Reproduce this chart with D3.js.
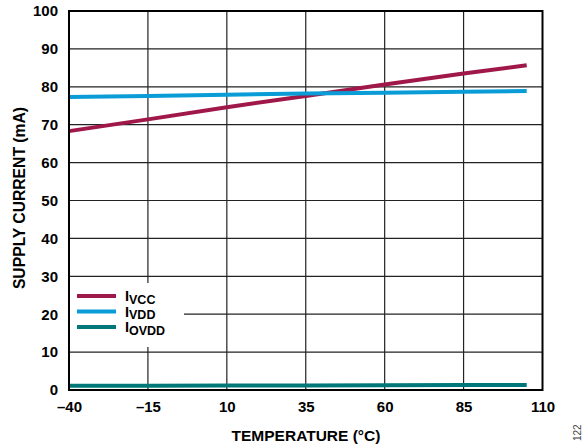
<!DOCTYPE html>
<html><head><meta charset="utf-8">
<script src="https://cdn.jsdelivr.net/npm/d3@7"></script>
<style>body{margin:0;background:#fff}svg{display:block}</style>
</head><body><svg id="c" width="585" height="448"></svg>
<script>
const temps = [-40, -15, 10, 35, 60, 85, 105];
const ivcc  = [68.3, 71.4, 74.6, 77.6, 80.6, 83.5, 85.7];
const ivdd  = [77.3, 77.6, 77.9, 78.2, 78.45, 78.7, 78.9];
const iovdd = [1.1, 1.15, 1.2, 1.2, 1.25, 1.3, 1.3];
const xTicks = [-40, -15, 10, 35, 60, 85, 110];
const yTicks = [0, 10, 20, 30, 40, 50, 60, 70, 80, 90, 100];
const seriesNames = ["VCC", "VDD", "OVDD"];
const colors = ["#A0174A", "#0A9CD6", "#00787A"];

const svg = d3.select("#c");
const L = 69, R = 542.5, T = 11, B = 390;
const x = d3.scaleLinear().domain([-40, 110]).range([L, R]);
const y = d3.scaleLinear().domain([0, 100]).range([B, T]);
const font = "'Liberation Sans', Arial, sans-serif";

// grid
const g = svg.append("g");
g.selectAll(".vg").data(xTicks.slice(1, -1)).enter().append("line")
  .attr("x1", d => x(d)).attr("x2", d => x(d)).attr("y1", T).attr("y2", B)
  .attr("stroke", "#222").attr("stroke-width", 1.2);
g.selectAll(".hg").data(yTicks.slice(1, -1)).enter().append("line")
  .attr("x1", L).attr("x2", R).attr("y1", d => y(d)).attr("y2", d => y(d))
  .attr("stroke", "#222").attr("stroke-width", 1.2);

// legend background
svg.append("rect").attr("x", L + 1).attr("y", 283).attr("width", 114).attr("height", 64).attr("fill", "#fff");

// lines
const data = [ivcc, ivdd, iovdd];
const line = d3.line().x((d, i) => x(temps[i])).y(d => y(d));
data.forEach((s, k) => {
  svg.append("path").attr("d", line(s)).attr("fill", "none")
    .attr("stroke", colors[k]).attr("stroke-width", 4);
});

// frame
svg.append("rect").attr("x", L).attr("y", T).attr("width", R - L).attr("height", B - T)
  .attr("fill", "none").attr("stroke", "#000").attr("stroke-width", 2);

// axes
const xa = svg.append("g").attr("transform", `translate(0,${B})`)
  .call(d3.axisBottom(x).tickValues(xTicks).tickSize(0).tickPadding(11)
    .tickFormat(d => d < 0 ? "\u2013" + Math.abs(d) : d));
const ya = svg.append("g").attr("transform", `translate(${L},0)`)
  .call(d3.axisLeft(y).tickValues(yTicks).tickSize(0).tickPadding(11));
[xa, ya].forEach(a => {
  a.select(".domain").remove();
  a.selectAll("text").attr("font-family", font).attr("font-size", 15)
    .attr("font-weight", "bold").attr("fill", "#000");
});

svg.append("text").attr("x", 306).attr("y", 441).attr("text-anchor", "middle")
  .attr("font-family", font).attr("font-size", 15.5).attr("font-weight", "bold")
  .text("TEMPERATURE (°C)");
svg.append("text").attr("transform", `translate(24.5,198) rotate(-90)`)
  .attr("text-anchor", "middle").attr("font-family", font).attr("font-size", 15.7)
  .attr("font-weight", "bold").text("SUPPLY CURRENT (mA)");

// legend
const ly = [296, 311.5, 327];
seriesNames.forEach((n, k) => {
  svg.append("line").attr("x1", 77).attr("x2", 116).attr("y1", ly[k]).attr("y2", ly[k])
    .attr("stroke", colors[k]).attr("stroke-width", 4);
  const t = svg.append("text").attr("x", 125).attr("y", ly[k] + 5)
    .attr("font-family", font).attr("font-weight", "bold").attr("fill", "#000");
  t.append("tspan").attr("font-size", 14.5).text("I");
  t.append("tspan").attr("font-size", 12.5).attr("dy", 2.5).text(n);
});

// figure number
svg.append("text").attr("transform", "translate(581,441) rotate(-90)")
  .attr("font-family", font).attr("font-size", 10).attr("fill", "#444").text("122");
</script></body></html>
